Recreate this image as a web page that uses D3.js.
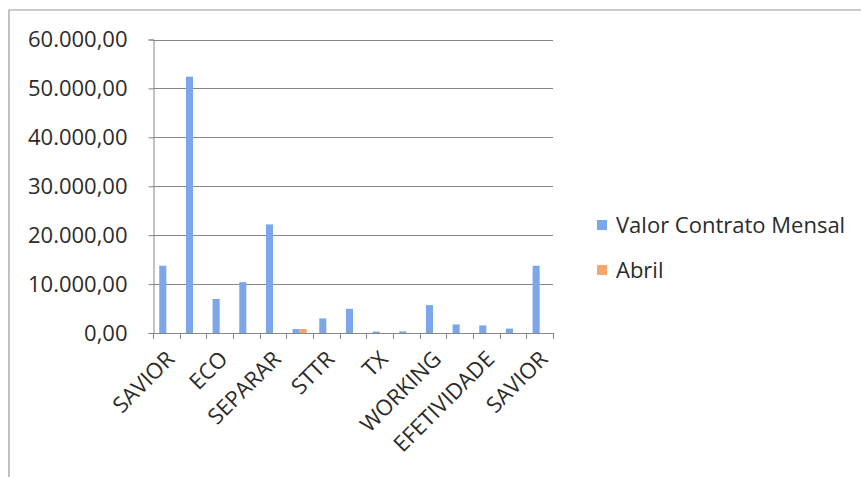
<!DOCTYPE html>
<html>
<head>
<meta charset="utf-8">
<script src="https://cdn.jsdelivr.net/npm/d3@7"></script>
<style>
  body { margin: 0; background: #fff; }
  svg { display: block; font-family: 'Open Sans', 'Noto Sans', sans-serif; }
</style>
</head>
<body>
<div id="chart"></div>
<script>
// one entry per category, only every other label is printed on the axis
const categories = ['SAVIOR', '', 'ECO', '', 'SEPARAR', '', 'STTR', '', 'TX', '', 'WORKING', '', 'EFETIVIDADE', '', 'SAVIOR']
const valorContrato = [13750, 52400, 6950, 10400, 22200, 800, 2980, 4950, 300, 330, 5700, 1750, 1550, 900, 13750]
const abril = [0, 0, 0, 0, 0, 820, 0, 0, 0, 0, 0, 0, 0, 0, 0]
const seriesNames = ['Valor Contrato Mensal', 'Abril']
const seriesColors = ['#7ba6ea', '#f7a66c']
const yTicks = [0, 10000, 20000, 30000, 40000, 50000, 60000]

const width = 861
const height = 477
const margin = { top: 40, left: 153, right: 308, bottom: 144 }
const fontSize = 22

const fmt = d3.formatLocale({ decimal: ',', thousands: '.', grouping: [3], currency: ['', ''] }).format(',.2f')

const svg = d3.select('#chart')
  .append('svg')
  .attr('width', width)
  .attr('height', height)

// page frame
svg.append('path')
  .attr('d', `M9,${height} V10 H${width}`)
  .attr('fill', 'none')
  .attr('stroke', '#9a9a9a')
  .attr('stroke-width', 1.2)

const x = d3.scaleBand()
  .domain(d3.range(categories.length))
  .range([margin.left, width - margin.right])
  .paddingInner(0.47)
  .paddingOuter(0.235)

const xSub = d3.scaleBand()
  .domain([0, 1])
  .range([0, x.bandwidth()])

const y = d3.scaleLinear()
  .domain([0, 60000])
  .range([height - margin.bottom, margin.top - 0.5])

// gridlines
svg.append('g')
  .selectAll('line')
  .data(yTicks.slice(1))
  .join('line')
  .attr('x1', margin.left)
  .attr('x2', width - margin.right)
  .attr('y1', d => Math.round(y(d)) + 0.5)
  .attr('y2', d => Math.round(y(d)) + 0.5)
  .attr('stroke', '#868686')
  .attr('stroke-width', 1)

// bars
const series = [valorContrato, abril]
series.forEach((vals, s) => {
  svg.append('g')
    .selectAll('rect')
    .data(vals)
    .join('rect')
    .attr('x', (d, i) => x(i) + xSub(s))
    .attr('width', xSub.bandwidth())
    .attr('y', d => y(d))
    .attr('height', d => y(0) - y(d))
    .attr('fill', seriesColors[s])
})

// y axis
const yAxis = svg.append('g')
  .attr('transform', `translate(${margin.left + 0.5},0)`)
  .call(d3.axisLeft(y).tickValues(yTicks).tickFormat(fmt).tickSize(5).tickPadding(21))
yAxis.select('.domain').attr('stroke', '#868686')
yAxis.selectAll('.tick line').attr('stroke', '#868686')
yAxis.selectAll('text')
  .attr('font-size', fontSize)
  .attr('fill', '#2b2b2b')
  .style('font-family', "'Open Sans', sans-serif")

// x axis line with ticks at category boundaries
const bounds = d3.range(categories.length + 1).map(i => margin.left + i * (width - margin.left - margin.right) / categories.length)
const xAxis = svg.append('g')
xAxis.append('line')
  .attr('x1', margin.left)
  .attr('x2', width - margin.right)
  .attr('y1', Math.round(y(0)) + 0.5)
  .attr('y2', Math.round(y(0)) + 0.5)
  .attr('stroke', '#868686')
xAxis.selectAll('line.tk')
  .data(bounds)
  .join('line')
  .attr('class', 'tk')
  .attr('x1', d => Math.round(d) + 0.5)
  .attr('x2', d => Math.round(d) + 0.5)
  .attr('y1', y(0))
  .attr('y2', y(0) + 6)
  .attr('stroke', '#868686')

xAxis.selectAll('text')
  .data(categories)
  .join('text')
  .attr('transform', (d, i) => `translate(${x(i) + x.bandwidth() / 2 + 4},${y(0) + 22}) rotate(-45)`)
  .attr('text-anchor', 'end')
  .attr('dy', '0.35em')
  .attr('font-size', fontSize)
  .attr('fill', '#2b2b2b')
  .text(d => d)

// legend
const legend = svg.append('g')
  .attr('transform', 'translate(597,225)')
seriesNames.forEach((name, i) => {
  legend.append('rect')
    .attr('x', 0)
    .attr('y', i * 45 - 5)
    .attr('width', 10)
    .attr('height', 10)
    .attr('fill', seriesColors[i])
  legend.append('text')
    .attr('x', 19)
    .attr('y', i * 45)
    .attr('dy', '0.35em')
    .attr('font-size', fontSize)
    .attr('fill', '#2b2b2b')
    .text(name)
})
</script>
</body>
</html>
